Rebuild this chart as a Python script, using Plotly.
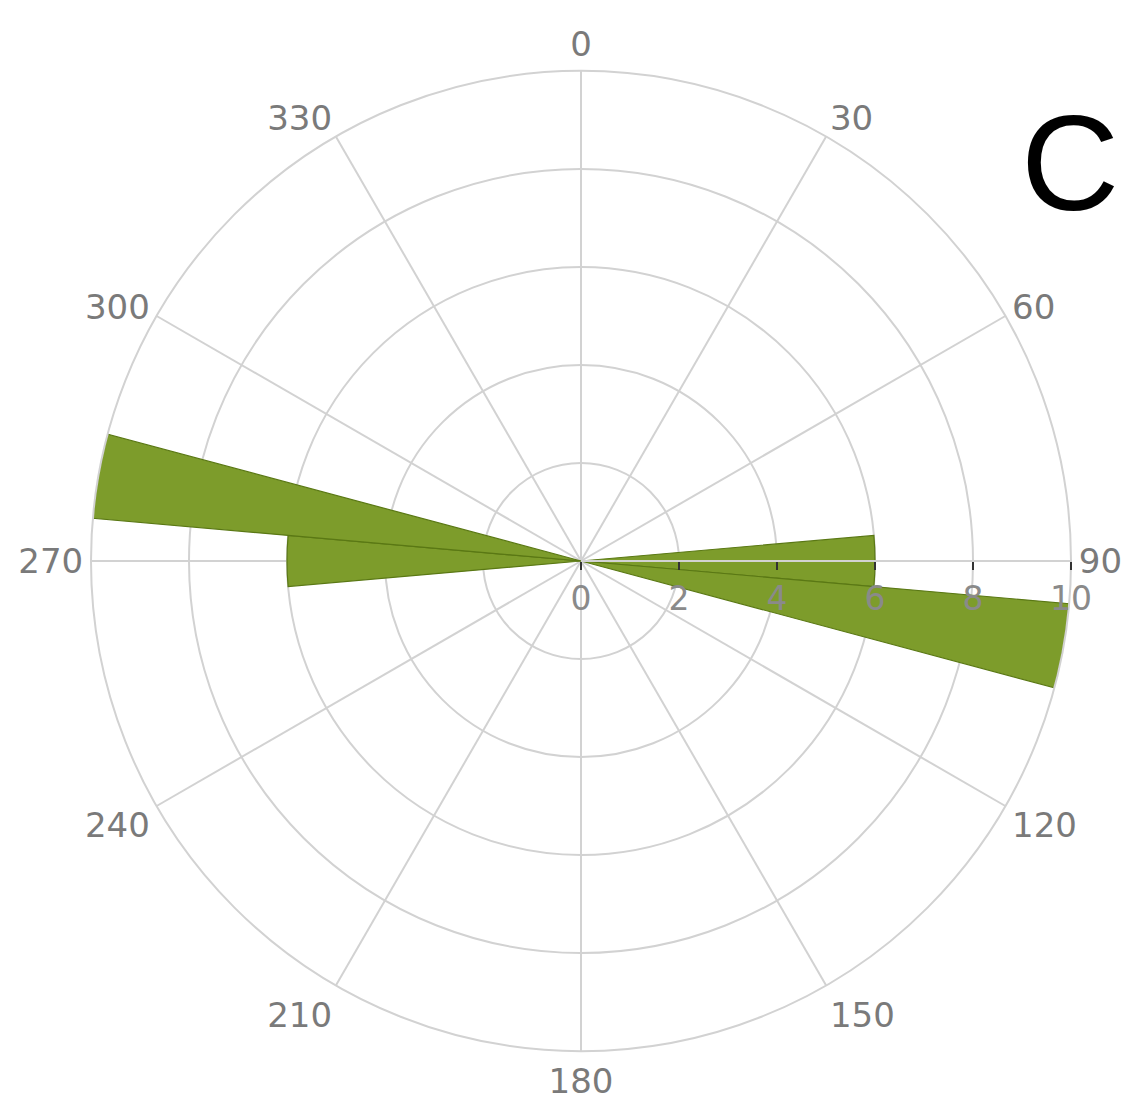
import plotly.graph_objects as go

# Data: rose diagram bins (center angle in degrees, count)
bin_centers = [90, 100, 270, 280]
bin_counts = [6, 10, 6, 10]
bin_width = [10, 10, 10, 10]

radial_ticks = [0, 2, 4, 6, 8, 10]
angular_ticks = list(range(0, 360, 30))
panel_label = "C"

W, H = 1129, 1102
cx, cy, R = 573, 553, 490

fig = go.Figure()
fig.add_trace(go.Barpolar(
    theta=bin_centers, r=bin_counts, width=bin_width,
    marker=dict(color="#7d9c2b", line=dict(color="#5a7814", width=1.2)),
    opacity=1, showlegend=False,
))

grid = "#d2d2d2"
fig.update_layout(
    width=W, height=H,
    margin=dict(l=0, r=0, t=0, b=0),
    paper_bgcolor="white",
    plot_bgcolor="white",
    font=dict(family="DejaVu Sans", color="#7a7a7a"),
    polar=dict(
        domain=dict(x=[(cx - R) / W, (cx + R) / W],
                    y=[(H - cy - R) / H, (H - cy + R) / H]),
        bgcolor="white",
        bargap=0,
        angularaxis=dict(
            direction="clockwise", rotation=90,
            tickmode="array", tickvals=angular_ticks,
            ticktext=[str(t) for t in angular_ticks],
            tickfont=dict(size=34, color="#7a7a7a", family="DejaVu Sans"),
            gridcolor=grid, gridwidth=2,
            linecolor=grid, linewidth=2,
            showline=True, ticks="",
        ),
        radialaxis=dict(
            range=[0, 10], angle=0, side="clockwise",
            tickmode="array", tickvals=radial_ticks,
            ticktext=[str(t) for t in radial_ticks],
            tickfont=dict(size=33, color="#8a8a8a", family="DejaVu Sans"),
            gridcolor=grid, gridwidth=2,
            showline=True, linecolor=grid, linewidth=2,
            ticks="outside", ticklen=8, tickcolor="#333", tickwidth=2,
            tickangle=0,
            layer="above traces",
        ),
    ),
    annotations=[dict(
        text=panel_label, x=1062 / W, y=1 - 155 / H, xref="paper", yref="paper",
        showarrow=False, font=dict(size=136, color="black", family="Liberation Sans"),
        xanchor="center", yanchor="middle",
    )],
)

fig.write_html("out.html")
